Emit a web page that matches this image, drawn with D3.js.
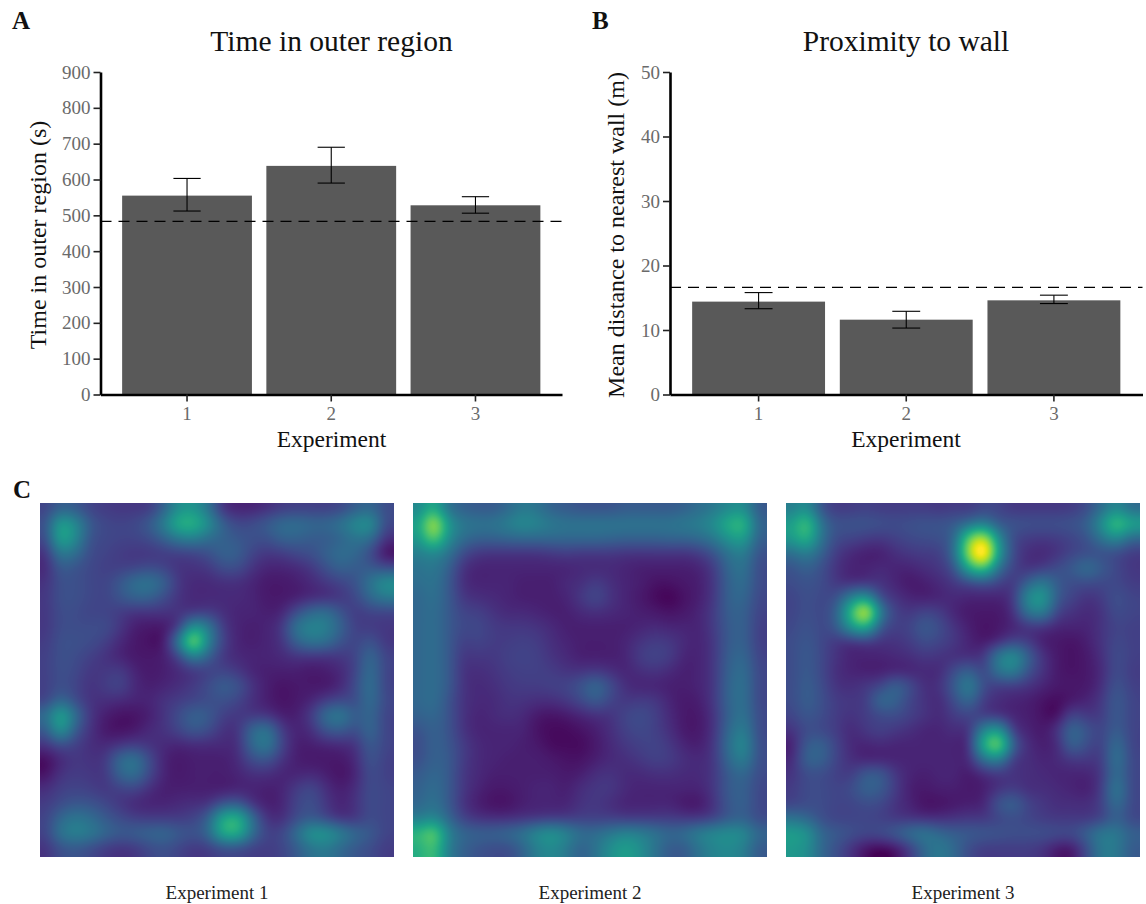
<!DOCTYPE html>
<html>
<head>
<meta charset="utf-8">
<script src="https://cdnjs.cloudflare.com/ajax/libs/d3/7.8.5/d3.min.js"></script>
<style>
  body { margin: 0; background: #fff; }
  #chart { position: relative; width: 1146px; height: 904px; overflow: hidden; }
  svg, canvas { position: absolute; }
  text { font-family: "Liberation Serif", serif; }
  .tick text { fill: #6a6a6a; font-size: 19px; font-family: "Liberation Serif", serif; }
</style>
</head>
<body>
<div id="chart"></div>
<script>
const experiments = [1, 2, 3];

// Panel A
const timeMeans = [555, 638, 528];
const timeLow = [512, 590, 506];
const timeHigh = [603, 690, 552];
const timeChance = 483;
const timeTicks = [0, 100, 200, 300, 400, 500, 600, 700, 800, 900];

// Panel B
const wallMeans = [14.4, 11.6, 14.6];
const wallLow = [13.3, 10.3, 14.1];
const wallHigh = [15.8, 12.9, 15.4];
const wallChance = 16.6;
const wallTicks = [0, 10, 20, 30, 40, 50];

// Panel C, occupancy in percent of the colour range
const heat1 = [
  [12,20,18,12,10,9,9,10,20,36,38,26,8,5,5,7,10,11,11,11,13,19,22,14],
  [16,42,34,18,13,12,13,18,30,48,50,36,20,13,14,18,23,24,22,22,26,34,36,14],
  [14,44,34,16,13,12,12,14,20,28,30,24,20,17,15,15,20,20,18,18,21,26,24,8],
  [8,28,24,14,12,10,9,9,10,11,12,15,20,19,12,9,10,13,15,20,24,22,14,2],
  [6,18,16,13,11,11,12,14,12,8,8,9,14,14,8,5,5,6,9,15,20,18,18,14],
  [8,15,15,13,12,17,24,26,20,9,6,6,7,7,5,3,3,4,6,9,12,16,26,36],
  [9,15,15,13,12,16,20,20,14,8,6,6,6,6,5,3,3,4,6,7,9,13,22,28],
  [9,14,14,12,12,10,8,8,8,8,9,10,7,5,5,4,5,14,22,24,16,10,12,12],
  [9,14,14,14,14,9,4,3,3,10,38,28,10,5,4,5,9,26,32,30,20,11,10,9],
  [10,15,15,14,11,6,3,2,3,28,68,32,12,5,4,5,8,20,26,24,16,12,16,9],
  [11,15,14,11,8,5,3,3,4,12,30,20,9,6,5,5,6,8,8,8,9,12,22,12],
  [11,15,13,9,9,10,5,3,4,6,9,11,12,9,5,4,4,4,3,4,6,12,24,12],
  [11,15,12,8,10,12,6,4,5,7,10,14,19,16,8,4,2,3,3,3,6,14,25,12],
  [12,22,14,8,7,6,5,5,8,10,12,14,15,12,7,4,2,3,5,10,13,14,24,13],
  [24,44,24,9,4,2,2,4,8,14,20,18,11,9,9,8,4,4,10,24,28,18,22,12],
  [18,38,18,8,3,2,3,6,8,12,17,14,8,8,22,26,10,5,7,16,18,14,22,12],
  [8,14,11,7,6,8,10,8,6,5,6,6,6,7,22,28,12,4,4,5,6,8,18,12],
  [1,6,9,8,9,22,26,14,5,3,4,4,4,6,14,16,8,4,3,3,3,6,16,11],
  [2,8,10,9,9,20,24,13,5,3,4,4,4,5,7,7,5,5,6,4,2,5,14,11],
  [7,11,12,11,9,11,12,7,4,4,4,4,4,5,5,4,5,10,13,7,4,7,14,12],
  [10,14,17,16,13,9,6,5,5,6,7,8,16,18,8,4,5,12,15,9,5,8,14,12],
  [12,22,27,24,18,14,11,10,10,10,12,20,46,50,24,8,7,14,18,13,8,9,14,12],
  [12,26,31,28,22,18,19,21,22,18,16,22,46,48,24,12,13,24,38,38,30,22,18,12],
  [8,15,17,14,10,8,9,13,15,12,9,10,14,14,11,10,12,18,26,28,22,17,14,10],
];
const heat2 = [
  [34,48,26,20,18,18,22,28,26,20,18,16,16,16,18,18,18,18,20,24,28,34,36,18],
  [44,76,40,28,26,26,30,34,32,28,26,26,26,26,26,26,26,26,28,30,36,48,52,22],
  [40,62,36,24,20,20,21,22,22,22,22,22,22,21,20,20,20,21,21,23,28,38,42,20],
  [30,34,26,14,9,8,8,8,8,9,10,9,9,9,8,8,8,8,8,10,16,26,30,16],
  [26,28,20,8,5,5,5,5,5,5,5,6,6,6,5,4,4,4,4,5,10,22,26,14],
  [24,26,18,7,5,5,5,4,4,4,6,7,10,7,5,4,2,2,3,4,9,20,24,14],
  [22,25,18,9,7,6,5,4,4,4,5,9,13,8,5,3,1,0,2,4,9,20,22,13],
  [22,24,18,12,11,8,6,6,5,4,4,6,7,6,5,4,3,2,3,5,10,19,20,12],
  [22,24,18,13,13,10,9,9,8,6,4,4,4,4,4,5,6,5,5,5,10,18,20,11],
  [22,24,18,11,12,10,10,11,10,7,5,4,4,4,5,8,10,9,6,5,9,18,20,11],
  [22,24,18,9,9,9,11,12,11,8,6,4,4,4,5,10,12,10,5,5,9,19,22,12],
  [22,24,18,8,7,8,10,11,11,10,8,8,9,7,5,7,8,6,4,5,9,20,24,13],
  [22,24,18,8,6,7,9,10,10,11,12,16,22,14,7,5,5,4,4,5,9,21,25,13],
  [22,24,16,8,6,6,8,8,7,7,9,13,18,12,9,10,9,5,3,4,9,21,25,13],
  [20,22,16,8,5,6,7,6,3,2,3,5,7,8,12,14,11,6,3,3,8,20,26,14],
  [16,20,16,8,5,5,5,5,2,1,1,2,4,7,11,13,11,7,3,3,8,22,30,14],
  [14,20,17,10,6,5,5,4,3,1,1,1,3,6,9,11,12,9,5,4,9,24,34,15],
  [15,20,18,10,6,5,4,4,4,3,2,2,4,6,7,9,11,10,7,6,9,22,30,15],
  [18,22,18,9,6,4,4,4,4,4,3,4,7,8,6,6,7,7,6,6,9,18,22,14],
  [20,24,18,9,5,3,3,4,5,5,4,7,9,9,6,5,5,5,5,5,9,18,20,13],
  [22,26,18,8,4,2,2,4,5,5,5,8,9,7,5,5,5,5,3,3,8,17,20,13],
  [30,34,22,12,8,7,7,8,9,10,10,11,11,11,10,10,10,10,9,9,12,18,20,14],
  [52,62,32,22,20,20,22,26,34,38,32,24,24,28,32,30,26,22,24,30,34,36,34,22],
  [48,56,30,20,16,14,14,20,30,34,28,20,26,36,42,36,26,18,18,26,32,34,30,18],
];
const heat3 = [
  [30,36,16,10,10,11,10,10,10,10,9,10,10,13,12,9,9,9,9,10,14,24,34,24],
  [42,56,26,16,16,16,15,14,15,16,16,18,24,30,18,16,15,15,15,16,20,36,56,44],
  [40,50,26,14,12,10,9,11,13,14,15,22,62,78,36,14,10,9,10,12,16,26,34,22],
  [24,30,20,10,6,4,4,7,9,10,11,24,72,100,42,14,7,6,8,12,14,15,14,10],
  [16,20,15,8,5,5,6,5,5,7,9,16,46,58,26,12,8,10,14,18,24,18,13,9],
  [14,16,14,9,7,8,8,5,3,4,6,9,13,16,12,9,20,28,18,14,14,13,13,10],
  [12,15,13,15,30,38,14,8,5,4,5,6,5,5,5,9,34,40,18,12,8,10,15,12],
  [12,15,13,20,52,82,30,12,9,12,10,5,3,3,3,7,26,30,12,8,6,8,14,12],
  [13,16,13,18,38,48,18,11,12,18,14,8,4,2,3,5,8,8,5,5,5,8,12,11],
  [14,17,13,9,8,10,8,8,10,14,12,9,5,3,6,12,10,4,3,2,4,8,13,11],
  [14,18,13,8,5,5,5,6,7,9,8,7,7,9,28,36,20,8,3,2,3,7,14,11],
  [14,18,13,7,5,4,4,5,5,6,6,14,20,12,26,30,16,8,3,2,3,6,14,10],
  [14,19,14,8,7,9,12,20,14,7,8,18,30,14,10,10,8,5,3,3,3,7,16,11],
  [14,19,15,10,9,10,22,20,12,8,6,14,22,10,7,5,4,2,1,3,5,9,18,12],
  [12,17,14,10,8,10,13,14,11,8,6,10,12,10,8,5,4,2,1,12,9,10,18,12],
  [8,14,13,10,6,9,11,9,7,5,5,7,8,32,40,10,5,3,8,22,16,12,19,12],
  [4,18,20,12,6,5,6,5,5,5,5,5,7,48,66,20,7,4,6,20,14,11,24,12],
  [6,20,20,12,7,5,5,5,5,5,5,5,6,24,30,10,7,5,6,9,9,10,26,13],
  [8,14,14,11,10,18,18,9,5,4,5,5,3,6,9,8,7,6,5,5,5,9,24,13],
  [10,14,14,12,14,20,18,10,4,3,4,4,3,4,8,10,7,7,6,5,4,10,28,13],
  [12,14,14,12,12,14,13,8,5,2,2,3,4,5,16,20,12,9,7,7,7,11,24,13],
  [26,22,15,12,12,12,11,9,8,7,7,8,9,9,12,14,12,10,9,9,9,12,20,13],
  [42,38,22,18,15,13,14,18,24,27,22,19,18,17,16,15,15,15,14,14,20,28,28,20],
  [40,36,22,15,8,2,0,2,10,22,28,22,14,10,10,10,10,8,3,3,14,28,28,18],
];
const heatLabels = ["Experiment 1", "Experiment 2", "Experiment 3"];

const chart = d3.select("#chart");
const svg = chart
  .append("svg")
  .attr("width", 1146)
  .attr("height", 904);

const plotTop = 72;
const plotBottom = 394.5;

// Bar panel with error bars and a dashed chance line
const drawBars = (opts) => {
  const x = d3
    .scaleBand()
    .domain(experiments)
    .range([opts.left, opts.right])
    .paddingInner(0.1)
    .paddingOuter(0.15);
  const y = d3
    .scaleLinear()
    .domain([0, opts.max])
    .range([plotBottom, plotTop]);

  const g = svg.append("g");

  g.selectAll(".bar")
    .data(experiments)
    .enter()
    .append("rect")
    .attr("class", "bar")
    .attr("x", (d) => x(d))
    .attr("y", (d, i) => y(opts.means[i]))
    .attr("width", x.bandwidth())
    .attr("height", (d, i) => y(0) - y(opts.means[i]))
    .attr("fill", "#595959");

  const capHalf = x.bandwidth() * 0.105;
  const mid = (d) => x(d) + x.bandwidth() / 2;
  const err = g
    .selectAll(".err")
    .data(experiments)
    .enter()
    .append("g")
    .attr("class", "err")
    .attr("stroke", "#000")
    .attr("stroke-width", 1.1);
  err
    .append("line")
    .attr("x1", mid)
    .attr("x2", mid)
    .attr("y1", (d, i) => y(opts.low[i]))
    .attr("y2", (d, i) => y(opts.high[i]));
  err
    .append("line")
    .attr("x1", (d) => mid(d) - capHalf)
    .attr("x2", (d) => mid(d) + capHalf)
    .attr("y1", (d, i) => y(opts.low[i]))
    .attr("y2", (d, i) => y(opts.low[i]));
  err
    .append("line")
    .attr("x1", (d) => mid(d) - capHalf)
    .attr("x2", (d) => mid(d) + capHalf)
    .attr("y1", (d, i) => y(opts.high[i]))
    .attr("y2", (d, i) => y(opts.high[i]));

  g.append("line")
    .attr("x1", opts.left)
    .attr("x2", opts.right)
    .attr("y1", y(opts.chance))
    .attr("y2", y(opts.chance))
    .attr("stroke", "#000")
    .attr("stroke-width", 1.2)
    .attr("stroke-dasharray", "11 7");

  const yAxis = g
    .append("g")
    .attr("transform", "translate(" + opts.left + ",0)")
    .call(d3.axisLeft(y).tickValues(opts.ticks).tickSize(7).tickSizeOuter(0).tickPadding(3));
  const xAxis = g
    .append("g")
    .attr("transform", "translate(0," + plotBottom + ")")
    .call(d3.axisBottom(x).tickSize(7).tickSizeOuter(0).tickPadding(5));
  [yAxis, xAxis].forEach((axis) => {
    axis.selectAll(".domain").attr("stroke", "#000").attr("stroke-width", 2.6);
    axis.selectAll(".tick line").attr("stroke", "#222").attr("stroke-width", 1.6);
  });

  // Titles and axis labels
  g.append("text")
    .attr("x", opts.titleX)
    .attr("y", 51)
    .attr("text-anchor", "middle")
    .attr("font-size", 29.5)
    .attr("fill", "#111")
    .text(opts.title);
  g.append("text")
    .attr("x", opts.titleX)
    .attr("y", 447)
    .attr("text-anchor", "middle")
    .attr("font-size", 23.5)
    .attr("fill", "#111")
    .text("Experiment");
  g.append("text")
    .attr("transform", "translate(" + opts.yLabelX + ",235) rotate(-90)")
    .attr("text-anchor", "middle")
    .attr("font-size", 24)
    .attr("fill", "#111")
    .text(opts.yLabel);
  g.append("text")
    .attr("x", opts.letterX)
    .attr("y", 29)
    .attr("font-size", 25)
    .attr("font-weight", "bold")
    .attr("fill", "#111")
    .text(opts.letter);
};

drawBars({
  left: 100.5,
  right: 562,
  max: 900,
  means: timeMeans,
  low: timeLow,
  high: timeHigh,
  chance: timeChance,
  ticks: timeTicks,
  title: "Time in outer region",
  titleX: 331.5,
  yLabel: "Time in outer region (s)",
  yLabelX: 46,
  letter: "A",
  letterX: 12,
});

drawBars({
  left: 670,
  right: 1142.5,
  max: 50,
  means: wallMeans,
  low: wallLow,
  high: wallHigh,
  chance: wallChance,
  ticks: wallTicks,
  title: "Proximity to wall",
  titleX: 906,
  yLabel: "Mean distance to nearest wall (m)",
  yLabelX: 624,
  letter: "B",
  letterX: 592,
});

svg
  .append("text")
  .attr("x", 13)
  .attr("y", 498)
  .attr("font-size", 25)
  .attr("font-weight", "bold")
  .attr("fill", "#111")
  .text("C");

// Heatmaps
const heatSize = 354;
const heatLefts = [40, 413, 786];
const heatTop = 503;
const color = d3
  .scaleSequentialPow(d3.interpolateViridis)
  .exponent(0.8)
  .domain([0, 88])
  .clamp(true);

// Catmull-Rom lookup so the coarse grid renders smooth like the original
const cubic = (p0, p1, p2, p3, t) =>
  p1 +
  0.5 * t * (p2 - p0 + t * (2 * p0 - 5 * p1 + 4 * p2 - p3 + t * (3 * (p1 - p2) + p3 - p0)));

const drawHeat = (grid, left, label) => {
  const n = grid.length;
  const toCell = d3.scaleLinear().domain([0, heatSize]).range([-0.5, n - 0.5]);
  const clampCell = (i) => Math.max(0, Math.min(n - 1, i));
  const values = new Float64Array(heatSize * heatSize);
  for (let py = 0; py < heatSize; py++) {
    const gy = toCell(py + 2);
    const y0 = Math.floor(gy);
    const ty = gy - y0;
    for (let px = 0; px < heatSize; px++) {
      const gx = toCell(px + 2);
      const x0 = Math.floor(gx);
      const tx = gx - x0;
      const rows = [-1, 0, 1, 2].map((dy) => {
        const row = grid[clampCell(y0 + dy)];
        return cubic(
          row[clampCell(x0 - 1)],
          row[clampCell(x0)],
          row[clampCell(x0 + 1)],
          row[clampCell(x0 + 2)],
          tx
        );
      });
      values[py * heatSize + px] = cubic(rows[0], rows[1], rows[2], rows[3], ty);
    }
  }
  d3.blur2({ data: values, width: heatSize, height: heatSize }, 5);

  const canvas = chart
    .append("canvas")
    .attr("width", heatSize)
    .attr("height", heatSize)
    .style("left", left + "px")
    .style("top", heatTop + "px");
  const ctx = canvas.node().getContext("2d");
  values.forEach((v, i) => {
    ctx.fillStyle = color(Math.max(0, v));
    ctx.fillRect(i % heatSize, Math.floor(i / heatSize), 1, 1);
  });

  svg
    .append("text")
    .attr("x", left + heatSize / 2)
    .attr("y", 899)
    .attr("text-anchor", "middle")
    .attr("font-size", 19)
    .attr("fill", "#222")
    .text(label);
};

drawHeat(heat1, heatLefts[0], heatLabels[0]);
drawHeat(heat2, heatLefts[1], heatLabels[1]);
drawHeat(heat3, heatLefts[2], heatLabels[2]);
</script>
</body>
</html>
